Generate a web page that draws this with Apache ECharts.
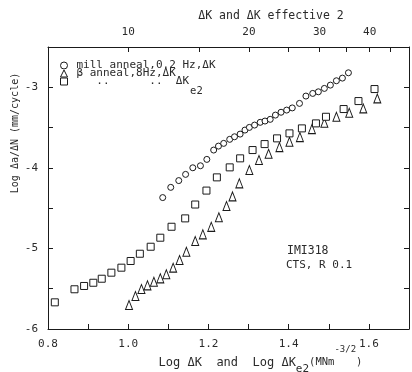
<!DOCTYPE html>
<html>
<head>
<meta charset="utf-8">
<script src="https://cdn.jsdelivr.net/npm/echarts@6/dist/echarts.min.js"></script>
<style>
html,body{margin:0;padding:0;background:#fff;}
#c{width:412px;height:372px;}
</style>
</head>
<body>
<div id="c"></div>
<script>
// Mill anneal, 0.2 Hz, ΔK (circles)
const millX = [1.086,1.106,1.126,1.143,1.161,1.180,1.196,1.213,1.225,1.238,1.253,1.265,1.279,1.291,1.302,1.315,1.329,1.341,1.354,1.367,1.381,1.395,1.409,1.427,1.443,1.460,1.474,1.489,1.504,1.519,1.534,1.549];
const millY = [-4.369,-4.242,-4.158,-4.081,-3.999,-3.974,-3.895,-3.779,-3.730,-3.696,-3.646,-3.614,-3.581,-3.531,-3.498,-3.469,-3.435,-3.419,-3.398,-3.345,-3.310,-3.283,-3.256,-3.200,-3.109,-3.076,-3.056,-3.014,-2.973,-2.919,-2.886,-2.820];
// β anneal, 8 Hz, ΔK (triangles)
const betaX = [1.002,1.018,1.033,1.048,1.064,1.080,1.095,1.112,1.128,1.145,1.167,1.186,1.207,1.226,1.245,1.260,1.277,1.302,1.326,1.350,1.377,1.402,1.428,1.458,1.489,1.519,1.551,1.586,1.621];
const betaY = [-5.702,-5.591,-5.504,-5.458,-5.413,-5.371,-5.321,-5.239,-5.144,-5.041,-4.908,-4.825,-4.732,-4.613,-4.474,-4.354,-4.192,-4.027,-3.903,-3.825,-3.742,-3.676,-3.618,-3.519,-3.440,-3.366,-3.316,-3.262,-3.138];
// β anneal, 8 Hz, ΔKe2 (squares)
const effX = [0.817,0.866,0.890,0.913,0.934,0.958,0.983,1.006,1.029,1.056,1.080,1.108,1.142,1.167,1.195,1.221,1.253,1.279,1.310,1.340,1.371,1.402,1.433,1.468,1.493,1.537,1.574,1.614];
const effY = [-5.669,-5.507,-5.466,-5.426,-5.376,-5.301,-5.239,-5.156,-5.066,-4.979,-4.867,-4.731,-4.627,-4.455,-4.282,-4.118,-3.994,-3.882,-3.779,-3.705,-3.634,-3.572,-3.510,-3.448,-3.366,-3.270,-3.171,-3.022];

const seriesNames = ['mill anneal,0.2 Hz,ΔK', 'β anneal,8Hz,ΔK', 'ditto ΔKe2'];
const topTickValues = [10,15,20,25,30,35,40,45];
const topLabelValues = [10,20,30,40];
const bottomLabels = [0.8,1.0,1.2,1.4,1.6];
const yLabels = [-3,-4,-5,-6];

const zip = (xs, ys) => xs.map((x, i) => [x, ys[i]]);
const MONO = '"DejaVu Sans Mono", "Liberation Mono", monospace';
const INK = '#1a1a1a';
const TXT = '#2a2a2a';

const chart = echarts.init(document.getElementById('c'), null, {renderer: 'canvas'});

const markerStyle = {color: '#fff', borderColor: INK, borderWidth: 1, opacity: 1};

const option = {
  backgroundColor: '#fff',
  animation: false,
  grid: {left: 48, right: 3, top: 47, bottom: 43, outerBoundsMode: 'none', containLabel: false},
  legend: {
    orient: 'vertical',
    left: 55, top: 55,
    itemWidth: 7, itemHeight: 7, itemGap: -3,
    selectedMode: false,
    data: seriesNames,
    itemStyle: {color: '#fff', borderColor: INK, borderWidth: 1},
    textStyle: {
      fontFamily: MONO, fontSize: 11, color: TXT, lineHeight: 9, padding: [0, 0, 0, 4],
      rich: {
        t: {fontFamily: MONO, fontSize: 11, color: TXT, lineHeight: 9},
        sub: {fontFamily: MONO, fontSize: 10.5, color: TXT, padding: [20, 0, 0, 1]}
      }
    },
    formatter: function (name) {
      if (name === seriesNames[2]) return '{t|   ..      ..  ΔK}{sub|e2}';
      return name;
    }
  },
  xAxis: [
    {
      type: 'value', position: 'bottom', min: 0.8, max: 1.7, interval: 0.1,
      axisLine: {show: true, onZero: false, lineStyle: {color: INK, width: 1}},
      axisTick: {show: true, inside: true, length: 5, lineStyle: {color: INK}},
      splitLine: {show: false},
      axisLabel: {
        margin: 10, fontFamily: MONO, fontSize: 11, color: TXT,
        formatter: function (v) {
          const hit = bottomLabels.find(b => Math.abs(b - v) < 1e-6);
          return hit === undefined ? '' : hit.toFixed(1);
        }
      },
      name: '{a|Log ΔK  and  Log ΔK}{sub|e2}{b|(MNm}{sup|-3/2}{b|)}',
      nameLocation: 'middle', nameGap: 16, nameMoveOverlap: false,
      nameTextStyle: {
        fontFamily: MONO, fontSize: 12, color: TXT, padding: [0, 0, 0, 64],
        rich: {
          a: {fontFamily: MONO, fontSize: 12, color: TXT},
          sub: {fontFamily: MONO, fontSize: 11, color: TXT, padding: [14, 0, 0, 0]},
          b: {fontFamily: MONO, fontSize: 10.5, color: TXT},
          sup: {fontFamily: MONO, fontSize: 9, color: TXT, padding: [0, 0, 26, 0]}
        }
      }
    },
    {
      type: 'value', position: 'top', min: 0.8, max: 1.7,
      axisLine: {show: true, onZero: false, lineStyle: {color: INK, width: 1}},
      axisTick: {show: true, inside: true, length: 5, lineStyle: {color: INK},
        customValues: topTickValues.map(v => Math.log10(v))},
      splitLine: {show: false},
      axisLabel: {
        margin: 9, fontFamily: MONO, fontSize: 11, color: TXT,
        customValues: topLabelValues.map(v => Math.log10(v)),
        formatter: function (v) { return String(Math.round(Math.pow(10, v))); }
      },
      name: 'ΔK and ΔK effective 2',
      nameLocation: 'middle', nameGap: 25, nameMoveOverlap: false,
      nameTextStyle: {fontFamily: MONO, fontSize: 11.5, color: TXT, padding: [0, 0, 0, 85]}
    }
  ],
  yAxis: [
    {
      type: 'value', position: 'left', min: -6, max: -2.5, interval: 0.5,
      axisLine: {show: true, onZero: false, lineStyle: {color: INK, width: 1}},
      axisTick: {show: true, inside: true, length: 5, lineStyle: {color: INK}},
      splitLine: {show: false},
      axisLabel: {
        margin: 10, fontFamily: MONO, fontSize: 11, color: TXT,
        formatter: function (v) {
          const hit = yLabels.find(b => Math.abs(b - v) < 1e-6);
          return hit === undefined ? '' : String(hit);
        }
      },
      name: 'Log Δa/ΔN (mm/cycle)',
      nameLocation: 'middle', nameGap: 28, nameRotate: 90, nameMoveOverlap: false,
      nameTextStyle: {fontFamily: MONO, fontSize: 10, color: TXT, padding: [0, 0, 0, 110]}
    },
    {
      type: 'value', position: 'right', min: -6, max: -2.5, interval: 0.5,
      axisLine: {show: true, onZero: false, lineStyle: {color: INK, width: 1}},
      axisTick: {show: true, inside: true, length: 5, lineStyle: {color: INK}},
      splitLine: {show: false},
      axisLabel: {show: false}
    }
  ],
  graphic: [
    {type: 'text', left: 287, top: 245, style: {text: 'IMI318', font: '11.5px ' + MONO, fill: TXT}},
    {type: 'text', left: 286, top: 260, style: {text: 'CTS, R 0.1', font: '11px ' + MONO, fill: TXT}}
  ],
  series: [
    {name: seriesNames[0], type: 'scatter', symbol: 'circle', symbolSize: 6,
     itemStyle: markerStyle, data: zip(millX, millY)},
    {name: seriesNames[1], type: 'scatter', symbol: 'triangle', symbolSize: [7, 9],
     itemStyle: markerStyle, data: zip(betaX, betaY)},
    {name: seriesNames[2], type: 'scatter', symbol: 'rect', symbolSize: 7,
     itemStyle: markerStyle, data: zip(effX, effY)}
  ]
};
chart.setOption(option);
</script>
</body>
</html>
